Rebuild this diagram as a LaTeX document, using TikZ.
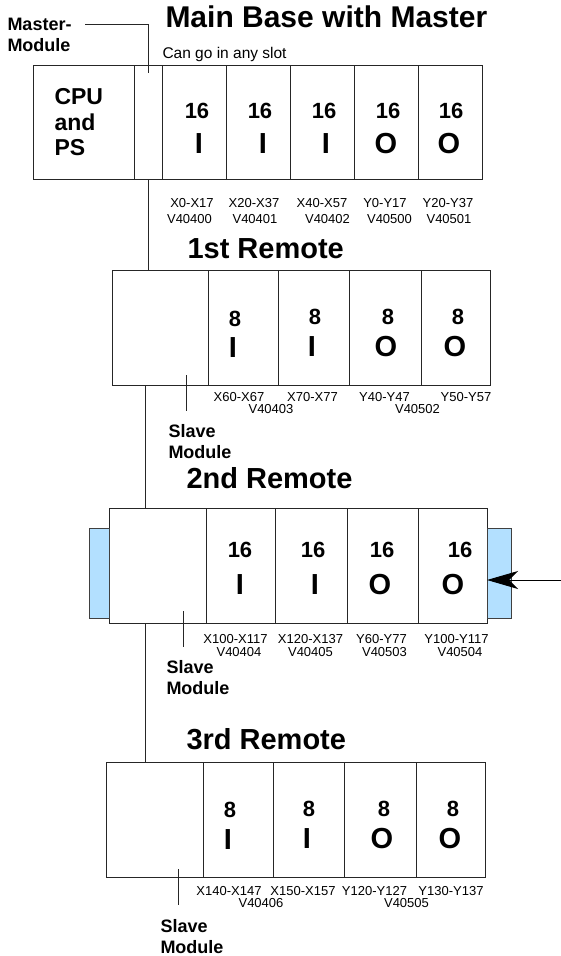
\documentclass[tikz,border=0pt]{standalone}
\usepackage{fontspec}
\setmainfont{Liberation Sans}
\usetikzlibrary{arrows.meta,positioning}
\definecolor{tabblue}{RGB}{179,224,255}

\begin{document}
\begin{tikzpicture}[x=1pt,y=-1pt,line width=1pt,
    slot/.style={rectangle,draw=black!85,inner sep=0pt,outer sep=0pt,minimum height=115pt},
    tab/.style={rectangle,draw=black!75,fill=tabblue,inner sep=0pt,outer sep=0pt,minimum height=90pt},
    count/.style={inner sep=0pt,font=\bfseries\fontsize{22}{24}\selectfont},
    kind/.style={inner sep=0pt,font=\bfseries\fontsize{29}{31}\selectfont},
    addr/.style={inner sep=0pt,font=\fontsize{13}{14}\selectfont},
    title/.style={inner sep=0pt,anchor=base west,font=\bfseries\fontsize{29}{31}\selectfont},
    note/.style={inner sep=0pt,anchor=north west,align=left,font=\bfseries\fontsize{18}{20.5}\selectfont}]

    \useasboundingbox (0,0) rectangle (561,956);

    % main base
    \node[title,font=\bfseries\fontsize{30}{32}\selectfont] (tmain) at (165,27) {Main Base with Master};
    \node[inner sep=0pt,anchor=base west,font=\fontsize{15.5}{17}\selectfont] (anyslot) at (162,58) {Can go in any slot};
    \node[note] (mlab) at (7,18) {Master-\\Module};

    \node[slot,minimum width=101pt,minimum height=114pt] (cpu) at (83.5,122) {};
    \node[slot,minimum width=28pt,minimum height=114pt,right=0pt of cpu] (ms) {};
    \node[slot,minimum width=64pt,minimum height=114pt,right=0pt of ms] (m1) {};
    \node[slot,minimum width=64pt,minimum height=114pt,right=0pt of m1] (m2) {};
    \node[slot,minimum width=64pt,minimum height=114pt,right=0pt of m2] (m3) {};
    \node[slot,minimum width=64pt,minimum height=114pt,right=0pt of m3] (m4) {};
    \node[slot,minimum width=64pt,minimum height=114pt,right=0pt of m4] (m5) {};

    \node[note,font=\bfseries\fontsize{23}{25.5}\selectfont] (cpulab) at (54,88) {CPU\\and\\PS};
    \node[count] (nm1) at (197,110.5) {16};
    \node[count] (nm2) at (260,110.5) {16};
    \node[count] (nm3) at (324,110.5) {16};
    \node[count] (nm4) at (388,110.5) {16};
    \node[count] (nm5) at (451,110.5) {16};
    \node[kind] (km1) at (199,144) {I};
    \node[kind] (km2) at (263,144) {I};
    \node[kind] (km3) at (326,144) {I};
    \node[kind] (km4) at (386,144) {O};
    \node[kind] (km5) at (449,144) {O};

    \node[addr] (am1) at (192,203) {X0-X17};
    \node[addr] (am2) at (254,203) {X20-X37};
    \node[addr] (am3) at (322,203) {X40-X57};
    \node[addr] (am4) at (385,203) {Y0-Y17};
    \node[addr] (am5) at (448,203) {Y20-Y37};
    \node[addr] (vm1) at (189.5,219) {V40400};
    \node[addr] (vm2) at (255,219) {V40401};
    \node[addr] (vm3) at (327.5,219) {V40402};
    \node[addr] (vm4) at (389.5,219) {V40500};
    \node[addr] (vm5) at (449,219) {V40501};

    % 1st remote
    \node[title] (t1) at (187,258) {1st Remote};
    \node[slot,minimum width=96pt] (s1) at (160,327.5) {};
    \node[slot,minimum width=70pt,right=0pt of s1] (a1) {};
    \node[slot,minimum width=71pt,right=0pt of a1] (a2) {};
    \node[slot,minimum width=72pt,right=0pt of a2] (a3) {};
    \node[slot,minimum width=69pt,right=0pt of a3] (a4) {};

    \node[count] (na1) at (235,319) {8};
    \node[count] (na2) at (315,317) {8};
    \node[count] (na3) at (388,317) {8};
    \node[count] (na4) at (458,317) {8};
    \node[kind] (ka1) at (233,348) {I};
    \node[kind] (ka2) at (312,347) {I};
    \node[kind] (ka3) at (386,347) {O};
    \node[kind] (ka4) at (455,347) {O};

    \node[addr] (aa1) at (239,397) {X60-X67};
    \node[addr] (aa2) at (312.5,397) {X70-X77};
    \node[addr] (aa3) at (384.5,397) {Y40-Y47};
    \node[addr] (aa4) at (466,397) {Y50-Y57};
    \node[addr] (va1) at (271,409.5) {V40403};
    \node[addr] (va2) at (417.5,409.5) {V40502};
    \node[note] (sl1) at (168,424) {Slave\\Module};

    % 2nd remote
    \node[title] (t2) at (186,488.5) {2nd Remote};
    \node[slot,minimum width=97pt] (s2) at (157.5,565.5) {};
    \node[slot,minimum width=69pt,right=0pt of s2] (b1) {};
    \node[slot,minimum width=72pt,right=0pt of b1] (b2) {};
    \node[slot,minimum width=71pt,right=0pt of b2] (b3) {};
    \node[slot,minimum width=69pt,right=0pt of b3] (b4) {};
    \node[tab,minimum width=20pt,left=0pt of s2.west,yshift=-7.5pt] (tabl) {};
    \node[tab,minimum width=24pt,right=0pt of b4.east,yshift=-7.5pt] (tabr) {};

    \node[count] (nb1) at (240,550) {16};
    \node[count] (nb2) at (313,550) {16};
    \node[count] (nb3) at (382,550) {16};
    \node[count] (nb4) at (460,550) {16};
    \node[kind] (kb1) at (240,585) {I};
    \node[kind] (kb2) at (315,585) {I};
    \node[kind] (kb3) at (380,585) {O};
    \node[kind] (kb4) at (453,585) {O};

    \node[addr] (ab1) at (235.5,639) {X100-X117};
    \node[addr] (ab2) at (310.5,639) {X120-X137};
    \node[addr] (ab3) at (381.5,639) {Y60-Y77};
    \node[addr] (ab4) at (456.5,639) {Y100-Y117};
    \node[addr] (vb1) at (239,652) {V40404};
    \node[addr] (vb2) at (310.5,652) {V40405};
    \node[addr] (vb3) at (384.5,652) {V40503};
    \node[addr] (vb4) at (460,652) {V40504};
    \node[note] (sl2) at (166,660) {Slave\\Module};

    % 3rd remote
    \node[title] (t3) at (186,749) {3rd Remote};
    \node[slot,minimum width=97pt] (s3) at (154.5,819.5) {};
    \node[slot,minimum width=70pt,right=0pt of s3] (c1) {};
    \node[slot,minimum width=71pt,right=0pt of c1] (c2) {};
    \node[slot,minimum width=72pt,right=0pt of c2] (c3) {};
    \node[slot,minimum width=69pt,right=0pt of c3] (c4) {};

    \node[count] (nc1) at (230,810) {8};
    \node[count] (nc2) at (309,809) {8};
    \node[count] (nc3) at (384,809) {8};
    \node[count] (nc4) at (453,809) {8};
    \node[kind] (kc1) at (228,840) {I};
    \node[kind] (kc2) at (307,839) {I};
    \node[kind] (kc3) at (382,839) {O};
    \node[kind] (kc4) at (450,839) {O};

    \node[addr] (ac1) at (229,891) {X140-X147};
    \node[addr] (ac2) at (303,891) {X150-X157};
    \node[addr] (ac3) at (374.5,891) {Y120-Y127};
    \node[addr] (ac4) at (451,891) {Y130-Y137};
    \node[addr] (vc1) at (261,903) {V40406};
    \node[addr] (vc2) at (406.5,903) {V40505};
    \node[note] (sl3) at (160,919) {Slave\\Module};

    % links and pointers
    \coordinate (mtail) at (85,24);
    \coordinate (bus) at (145,0);
    \coordinate (p1) at (186,375);
    \coordinate (p2) at (183,611);
    \coordinate (p3) at (178,869);
    \coordinate (feed) at (561,580);

    \path[draw=black!85]
        (mtail) -| ([yshift=-8pt]ms.north)
        (ms.south) -- (ms.south |- s1.north)
        (bus |- s1.south) -- (bus |- s2.north)
        (bus |- s2.south) -- (bus |- s3.north)
        (p1) -- ++(0,36)
        (p2) -- ++(0,36)
        (p3) -- ++(0,36)
        ;
    \draw[-{Stealth[length=31pt,width=18pt,inset=9pt]}] (feed) -- (feed -| b4.east);
\end{tikzpicture}
\end{document}
